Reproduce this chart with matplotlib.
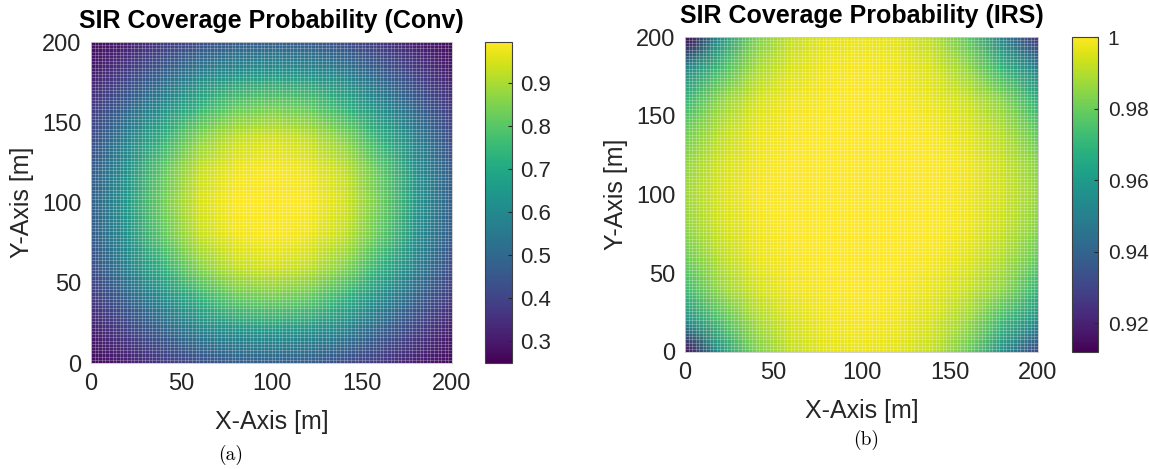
import numpy as np
import matplotlib
matplotlib.use("Agg")
import matplotlib.pyplot as plt

plt.rcParams['font.family'] = ['Liberation Sans', 'DejaVu Sans']

# sample points of the field, every 20 m (x columns, y rows from bottom)
x_m = [0, 20, 40, 60, 80, 100, 120, 140, 160, 180, 200]
y_m = [0, 20, 40, 60, 80, 100, 120, 140, 160, 180, 200]

# conventional: SIR coverage probability
conv_cov = [
    [0.27, 0.31, 0.37, 0.42, 0.46, 0.47, 0.46, 0.42, 0.37, 0.31, 0.27],
    [0.31, 0.39, 0.48, 0.58, 0.63, 0.65, 0.63, 0.58, 0.48, 0.39, 0.31],
    [0.37, 0.48, 0.61, 0.73, 0.81, 0.83, 0.81, 0.73, 0.61, 0.48, 0.37],
    [0.42, 0.58, 0.73, 0.86, 0.93, 0.95, 0.93, 0.86, 0.73, 0.58, 0.42],
    [0.46, 0.63, 0.81, 0.93, 0.98, 0.99, 0.98, 0.93, 0.81, 0.63, 0.46],
    [0.47, 0.65, 0.83, 0.95, 0.99, 0.99, 0.99, 0.95, 0.83, 0.65, 0.47],
    [0.46, 0.63, 0.81, 0.93, 0.98, 0.99, 0.98, 0.93, 0.81, 0.63, 0.46],
    [0.42, 0.58, 0.73, 0.86, 0.93, 0.95, 0.93, 0.86, 0.73, 0.58, 0.42],
    [0.37, 0.48, 0.61, 0.73, 0.81, 0.83, 0.81, 0.73, 0.61, 0.48, 0.37],
    [0.31, 0.39, 0.48, 0.58, 0.63, 0.65, 0.63, 0.58, 0.48, 0.39, 0.31],
    [0.27, 0.31, 0.37, 0.42, 0.46, 0.47, 0.46, 0.42, 0.37, 0.31, 0.27],
]

# IRS-assisted: panel (b)
irs_cov = [
    [0.915, 0.958, 0.982, 0.992, 0.996, 0.997, 0.996, 0.992, 0.980, 0.955, 0.930],
    [0.955, 0.975, 0.988, 0.995, 0.998, 0.999, 0.998, 0.995, 0.987, 0.972, 0.955],
    [0.972, 0.986, 0.994, 0.998, 0.999, 1.000, 0.999, 0.997, 0.993, 0.985, 0.970],
    [0.980, 0.991, 0.997, 0.999, 1.000, 1.000, 1.000, 0.999, 0.996, 0.990, 0.979],
    [0.985, 0.994, 0.998, 1.000, 1.000, 1.000, 1.000, 1.000, 0.998, 0.993, 0.984],
    [0.987, 0.995, 0.999, 1.000, 1.000, 1.000, 1.000, 1.000, 0.998, 0.994, 0.986],
    [0.985, 0.994, 0.998, 1.000, 1.000, 1.000, 1.000, 1.000, 0.998, 0.993, 0.984],
    [0.980, 0.991, 0.997, 0.999, 1.000, 1.000, 1.000, 0.999, 0.996, 0.990, 0.978],
    [0.970, 0.985, 0.994, 0.998, 0.999, 1.000, 0.999, 0.997, 0.993, 0.984, 0.968],
    [0.952, 0.973, 0.988, 0.995, 0.998, 0.999, 0.998, 0.995, 0.986, 0.970, 0.950],
    [0.912, 0.956, 0.982, 0.992, 0.996, 0.997, 0.996, 0.991, 0.978, 0.950, 0.925],
]

axis_ticks = [0, 50, 100, 150, 200]
conv_cbar_ticks = [0.3, 0.4, 0.5, 0.6, 0.7, 0.8, 0.9]
irs_cbar_ticks = [0.92, 0.94, 0.96, 0.98, 1.0]
irs_cbar_labels = ['0.92', '0.94', '0.96', '0.98', '1']

fig = plt.figure(figsize=(11.49, 4.69), dpi=100)

ax1 = fig.add_axes([0.0792, 0.2260, 0.3142, 0.6844])
cax1 = fig.add_axes([0.4221, 0.2260, 0.0235, 0.6844])
ax2 = fig.add_axes([0.5962, 0.2495, 0.3072, 0.6716])
cax2 = fig.add_axes([0.9330, 0.2495, 0.0226, 0.6716])

X, Y = np.meshgrid(x_m, y_m)

def draw(ax, cax, data, vmin, vmax, title):
    mesh = ax.pcolormesh(X, Y, np.array(data), cmap='viridis', shading='gouraud',
                         vmin=vmin, vmax=vmax, rasterized=True)
    # surf-style mesh lines, one every 2 m
    grid = np.arange(0, 201, 2)
    ax.vlines(grid, 0, 200, colors='white', linewidth=0.5, alpha=0.35)
    ax.hlines(grid, 0, 200, colors='white', linewidth=0.5, alpha=0.35)
    ax.set_xlim(0, 200)
    ax.set_ylim(0, 200)
    ax.set_xticks(axis_ticks)
    ax.set_yticks(axis_ticks)
    ax.tick_params(labelsize=17, length=0, pad=7, colors='#262626')
    for s in ax.spines.values():
        s.set_color('#c8c8c8')
        s.set_linewidth(0.6)
    ax.set_xlabel('X-Axis [m]', fontsize=18, color='#262626', labelpad=11)
    ax.set_ylabel('Y-Axis [m]', fontsize=18, color='#262626', labelpad=6)
    ax.set_title(title, fontsize=18, fontweight='bold', pad=10)
    cb = fig.colorbar(mesh, cax=cax)
    cb.outline.set_edgecolor('#404040')
    cb.outline.set_linewidth(0.8)
    cax.tick_params(direction='in', length=3, labelsize=16, pad=6, colors='#262626')
    return cb

cb1 = draw(ax1, cax1, conv_cov, 0.25, 0.995, 'SIR Coverage Probability (Conv)')
cb1.set_ticks(conv_cbar_ticks)
cb2 = draw(ax2, cax2, irs_cov, 0.912, 1.0, 'SIR Coverage Probability (IRS)')
cb2.set_ticks(irs_cbar_ticks)
cb2.set_ticklabels(irs_cbar_labels)
cax2.tick_params(labelsize=15, pad=7)

fig.text(0.2005, 0.03, '(a)', fontsize=14, family='cmr10', ha='center', va='center')
fig.text(0.7540, 0.062, '(b)', fontsize=14, family='cmr10', ha='center', va='center')

fig.savefig('out.png', dpi=100)
